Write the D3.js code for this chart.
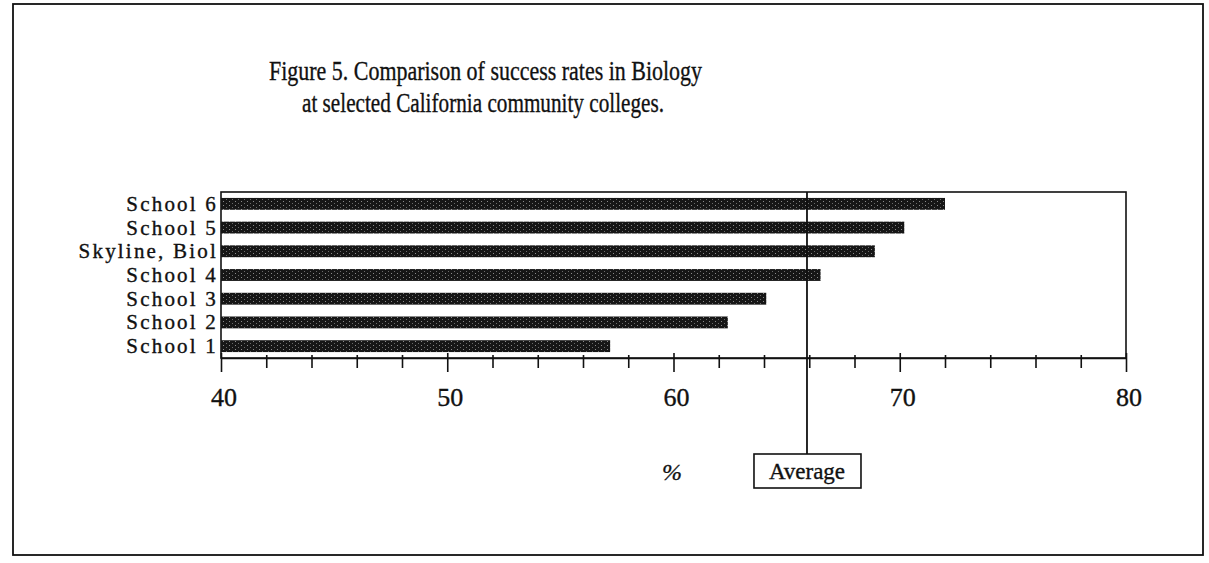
<!DOCTYPE html>
<html>
<head>
<meta charset="utf-8">
<script src="https://cdn.jsdelivr.net/npm/d3@7"></script>
<style>
  html, body { margin: 0; padding: 0; background: #fff; }
  svg { display: block; }
  text { font-family: "Liberation Serif", "Times New Roman", "DejaVu Serif", serif; fill: #111; stroke: #111; stroke-width: 0.35px; }
</style>
</head>
<body>
<svg id="chart" width="1209" height="563"></svg>
<script>
// ---- data ----
const categories = ["School 6", "School 5", "Skyline, Biol", "School 4", "School 3", "School 2", "School 1"];
const successRates = [72.0, 70.2, 68.9, 66.5, 64.1, 62.4, 57.2];
const averageRate = 65.9;
const xTickLabels = [40, 50, 60, 70, 80];
const titleLines = ["Figure 5. Comparison of success rates in Biology", "at selected California community colleges."];

// ---- layout ----
const svg = d3.select("#chart");
const plot = { left: 221, right: 1126, top: 192, bottom: 358 };

const x = d3.scaleLinear().domain([40, 80]).range([plot.left, plot.right]);
const y = d3.scaleBand().domain(categories).range([plot.top, plot.bottom]).paddingInner(0.5).paddingOuter(0.25);

// stipple pattern for bars
const defs = svg.append("defs");
const pat = defs.append("pattern").attr("id", "stipple").attr("width", 6).attr("height", 4)
  .attr("patternUnits", "userSpaceOnUse");
pat.append("rect").attr("width", 6).attr("height", 4).attr("fill", "#161616");
pat.append("rect").attr("x", 1).attr("y", 1).attr("width", 1).attr("height", 1).attr("fill", "#8a8a8a");
pat.append("rect").attr("x", 4).attr("y", 3).attr("width", 1).attr("height", 1).attr("fill", "#6a6a6a");

// outer frame
svg.append("rect").attr("x", 13).attr("y", 4).attr("width", 1190).attr("height", 551)
  .attr("fill", "none").attr("stroke", "#111").attr("stroke-width", 1.8);

// title
const titleG = svg.append("g");
titleG.append("text").attr("x", 269).attr("y", 80).attr("textLength", 433).attr("lengthAdjust", "spacingAndGlyphs")
  .attr("font-size", 28).text(titleLines[0]);
titleG.append("text").attr("x", 302).attr("y", 112).attr("textLength", 362).attr("lengthAdjust", "spacingAndGlyphs")
  .attr("font-size", 28).text(titleLines[1]);

// plot frame
svg.append("rect").attr("x", plot.left).attr("y", plot.top)
  .attr("width", plot.right - plot.left).attr("height", plot.bottom - plot.top)
  .attr("fill", "none").attr("stroke", "#111").attr("stroke-width", 1.6);

// bars
svg.append("g").selectAll("rect").data(categories).join("rect")
  .attr("x", x(40))
  .attr("y", d => y(d))
  .attr("width", (d, i) => x(successRates[i]) - x(40))
  .attr("height", y.bandwidth())
  .attr("fill", "url(#stipple)");

// category labels
svg.append("g").selectAll("text").data(categories).join("text")
  .attr("x", plot.left - 3)
  .attr("y", d => y(d) + y.bandwidth() / 2 + 7)
  .attr("text-anchor", "end")
  .attr("font-size", 21)
  .attr("letter-spacing", "2.2px")
  .text(d => d);

// x axis
const xAxis = d3.axisBottom(x).tickValues(d3.range(40, 81, 2)).tickFormat("").tickSizeOuter(0);
const axG = svg.append("g").attr("transform", `translate(0,${plot.bottom})`).call(xAxis);
axG.select(".domain").attr("stroke", "#111").attr("stroke-width", 1.6);
axG.selectAll(".tick line")
  .attr("stroke", "#111").attr("stroke-width", 1.6)
  .attr("y1", d => d % 10 === 0 ? -5 : -3)
  .attr("y2", d => d % 10 === 0 ? 14 : 10);

// tick labels
svg.append("g").selectAll("text").data(xTickLabels).join("text")
  .attr("x", d => x(d) + 3)
  .attr("y", plot.bottom + 48)
  .attr("text-anchor", "middle")
  .attr("font-size", 26)
  .text(d => d);

// average line and label
const ax = x(averageRate);
svg.append("line").attr("x1", ax).attr("x2", ax).attr("y1", plot.top).attr("y2", 454)
  .attr("stroke", "#111").attr("stroke-width", 1.8);
svg.append("rect").attr("x", ax - 53).attr("y", 454).attr("width", 107).attr("height", 34)
  .attr("fill", "#fff").attr("stroke", "#111").attr("stroke-width", 1.6);
svg.append("text").attr("x", ax).attr("y", 479).attr("text-anchor", "middle")
  .attr("font-size", 23).text("Average");

// % label
svg.append("text").attr("x", 672).attr("y", 480).attr("text-anchor", "middle")
  .attr("font-size", 24).attr("font-style", "italic").text("%");
</script>
</body>
</html>
